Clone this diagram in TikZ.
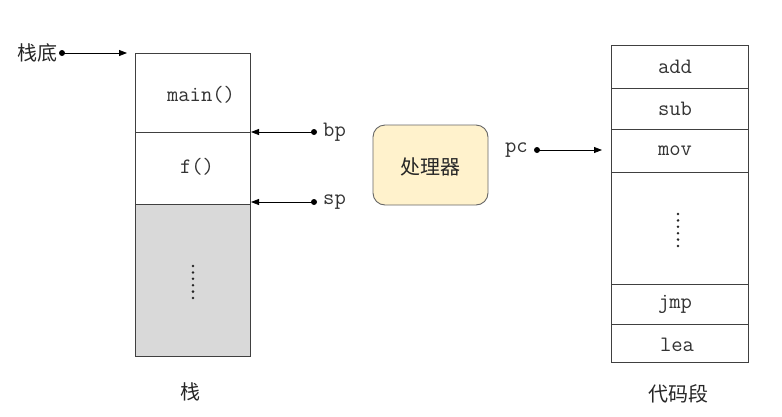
\documentclass[tikz,border=0pt]{standalone}
\usepackage{fontspec}
\newfontfamily\cjk{Noto Sans CJK SC}
\usetikzlibrary{arrows.meta}
\definecolor{boxline}{HTML}{404040}
\definecolor{stackgray}{HTML}{D9D9D9}
\definecolor{cpufill}{HTML}{FFF2CC}
\definecolor{cpuline}{HTML}{666666}
\tikzset{
  cell/.style={draw=boxline, line width=0.9pt, inner sep=0pt, outer sep=0pt, minimum width=#1},
  cell/.default=115,
  mono/.style={font=\ttfamily\fontsize{22}{22}\selectfont, inner sep=0pt, text=black!80},
  cjkt/.style={font=\cjk\fontsize{20}{20}\selectfont, inner sep=0pt, text=black!85},
  pin/.style={circle, fill=black, inner sep=0pt, minimum size=6pt},
  arr/.style={-{Triangle[length=8pt,width=6pt]}, line width=0.8pt},
  dotmark/.style={circle, fill=black!85, inner sep=0pt, minimum size=2.8pt},
}
\begin{document}
\begin{tikzpicture}[x=1pt,y=-1pt]
\useasboundingbox (0,0) rectangle (782,416);
% stack
\node[cell, minimum height=79] (smain) at (192.5,92.5) {};
\node[cell, minimum height=72] (sf) at (192.5,168) {};
\node[cell, minimum height=152, fill=stackgray] (sfree) at (192.5,280) {};
\node[mono] (tmain) at (201,95) {main()};
\node[mono] (tf) at (197,167) {f()};
\foreach \i in {0,...,5} \node[dotmark] (sd\i) at (193,266+6.4*\i) {};
\node[cjkt] (tstack) at (190,392) {栈};
% stack bottom label
\node[cjkt, anchor=east] (tbottom) at (58,53) {栈底};
\node[pin] (pbottom) at (62,53) {};
\coordinate (cbottom) at (127,53);
\draw[arr] (pbottom.center) -- (cbottom);
% bp, sp
\node[pin] (pbp) at (314,132) {};
\node[mono, anchor=west] (tbp) at (323,132) {bp};
\coordinate (cbp) at (251,132);
\draw[arr] (pbp.center) -- (cbp);
\node[pin] (psp) at (314,202) {};
\node[mono, anchor=west] (tsp) at (323,202) {sp};
\coordinate (csp) at (251,202);
\draw[arr] (psp.center) -- (csp);
% processor
\node[draw=cpuline, fill=cpufill, line width=0.9pt, rounded corners=12pt,
      minimum width=115, minimum height=80, inner sep=0pt] (cpu) at (430.5,165) {};
\node[cjkt] (tcpu) at (430,167) {处理器};
% pc
\node[mono, anchor=east] (tpc) at (528,150) {pc};
\node[pin] (ppc) at (537,150) {};
\coordinate (cpc) at (602,150);
\draw[arr] (ppc.center) -- (cpc);
% code segment
\node[cell=137, minimum height=43] (cadd) at (679.5,66.5) {};
\node[cell=137, minimum height=41] (csub) at (679.5,108.5) {};
\node[cell=137, minimum height=43] (cmov) at (679.5,150.5) {};
\node[cell=137, minimum height=112] (cgap) at (679.5,228) {};
\node[cell=137, minimum height=40] (cjmp) at (679.5,304) {};
\node[cell=137, minimum height=38] (clea) at (679.5,343) {};
\node[mono] (tadd) at (675,67) {add};
\node[mono] (tsub) at (675,109) {sub};
\node[mono] (tmov) at (675,151) {mov};
\node[mono] (tjmp) at (675,304) {jmp};
\node[mono] (tlea) at (677,345) {lea};
\foreach \i in {0,...,5} \node[dotmark] (cd\i) at (678,214+6.4*\i) {};
\node[cjkt] (tcode) at (678,394) {代码段};
\end{tikzpicture}
\end{document}
